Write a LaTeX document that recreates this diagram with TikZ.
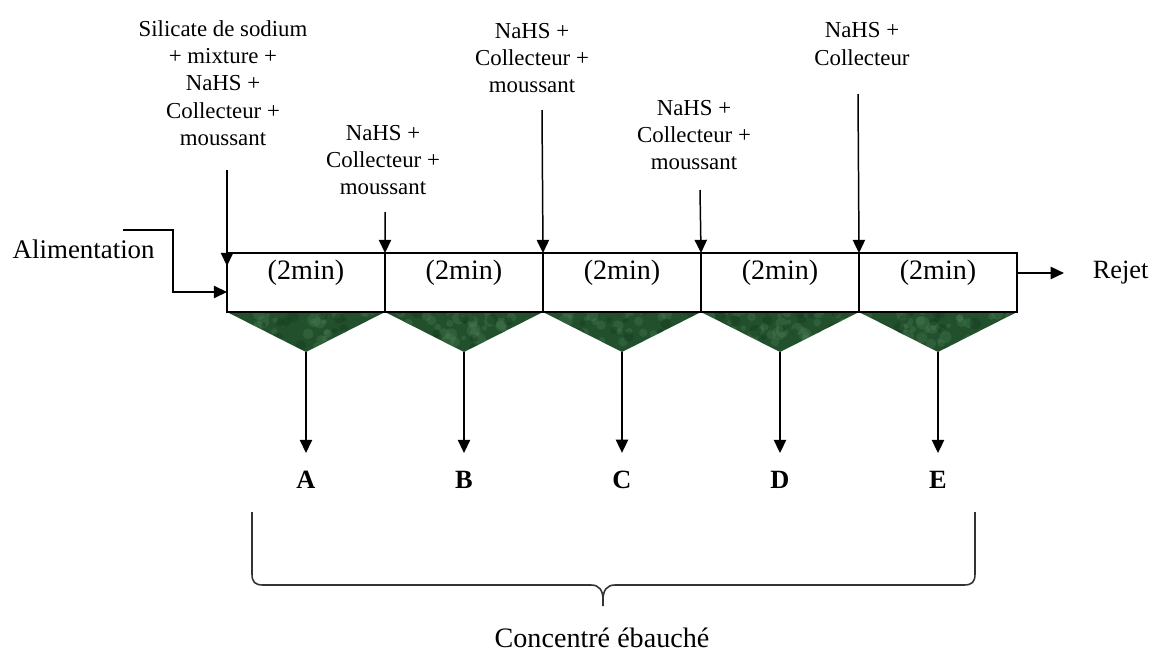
\documentclass[tikz,border=0pt]{standalone}
\usepackage{fontspec}
\setmainfont{Liberation Serif}
\usetikzlibrary{arrows.meta,calc}
\definecolor{mal}{RGB}{34,80,44}
\definecolor{mallight}{RGB}{80,130,90}
\definecolor{maldark}{RGB}{18,52,26}
\begin{document}
\begin{tikzpicture}[x=0.02cm,y=-0.02cm,line width=0.85pt,
  arr/.style={-{Triangle[length=7.5pt,width=7pt]}},
  cell/.style={draw,minimum width=3.16cm,minimum height=1.18cm,inner sep=0pt,outer sep=0pt},
  lbl/.style={align=center,font=\fontsize{13}{15.6}\selectfont,inner sep=0pt},
  big/.style={font=\fontsize{16}{19}\selectfont,inner sep=0pt},
  letter/.style={font=\fontsize{15}{18}\selectfont\bfseries,inner sep=2pt}]
\useasboundingbox (0,0) rectangle (1157,653);
\pgfmathsetseed{11}
% triangles (hoppers)
\foreach \i/\cx in {1/306,2/464,3/622,4/780,5/938}{
  \coordinate (t\i) at (\cx,352);
  \begin{scope}
    \clip (\cx-79,312) -- (\cx+79,312) -- (t\i) -- cycle;
    \fill[mal] (\cx-80,311) rectangle (\cx+80,356);
    \foreach \k in {1,...,45}{
      \pgfmathsetmacro\px{\cx-80+160*rnd}
      \pgfmathsetmacro\py{312+42*rnd}
      \pgfmathsetmacro\rr{2+5*rnd}
      \fill[mallight,opacity=0.3] (\px,\py) circle[radius=\rr];
    }
    \foreach \k in {1,...,25}{
      \pgfmathsetmacro\px{\cx-80+160*rnd}
      \pgfmathsetmacro\py{312+42*rnd}
      \pgfmathsetmacro\rr{2+4*rnd}
      \fill[maldark,opacity=0.35] (\px,\py) circle[radius=\rr];
    }
  \end{scope}
}
% cells
\foreach \i/\cx in {1/306,2/464,3/622,4/780,5/938}{
  \node[cell] (c\i) at (\cx,282.5) {};
  \node[big] at (\cx,272.5) {(2min)};
}
% top reagent labels
\node[lbl] (r1) at (223,83) {Silicate de sodium\\+ mixture +\\NaHS +\\Collecteur +\\moussant};
\node[lbl] (r2) at (383,160) {NaHS +\\Collecteur +\\moussant};
\node[lbl] (r3) at (532,58) {NaHS +\\Collecteur +\\moussant};
\node[lbl] (r4) at (694,135) {NaHS +\\Collecteur +\\moussant};
\node[lbl] (r5) at (862,44) {NaHS +\\Collecteur};
\coordinate (s1) at (227,170);
\coordinate (s2) at (385,212);
\coordinate (s3) at (542,110);
\coordinate (s4) at (700,190);
\coordinate (s5) at (858,94);
\coordinate (e1) at (227,266);
\draw[arr] (s1) -- (e1);
\draw[arr] (s2) -- (c2.north west);
\draw[arr] (s3) -- (c3.north west);
\draw[arr] (s4) -- (c4.north west);
\draw[arr] (s5) -- (c5.north west);
% feed
\node[font=\fontsize{15.3}{18}\selectfont,inner sep=0pt,anchor=west] (alim) at (12,249) {Alimentation};
\coordinate (f0) at (123,230);
\coordinate (f1) at (227,292);
\draw[arr] (f0) -- (173,230) |- (f1);
% reject
\node[font=\fontsize{15}{18}\selectfont,inner sep=0pt,anchor=west] (rej) at (1092,273) {Rejet};
\draw[arr,shorten >=16pt] (c5.east |- rej.west) -- (rej.west);
% products
\foreach \i/\l in {1/A,2/B,3/C,4/D,5/E}{
  \node[letter] (p\i) at ($(t\i)+(0,128)$) {\l};
  \draw[arr,shorten >=8pt] (t\i) -- (p\i.north);
}
% brace
\draw[line width=0.9pt,black!80] (252,512) -- (252,574) .. controls (252,582) and (255,585) .. (263,585)
  -- (591,585) .. controls (599,585) and (603,590) .. (603,600) -- (603,606)
  (603,600) .. controls (603,590) and (607,585) .. (615,585)
  -- (964,585) .. controls (972,585) and (975,582) .. (975,574) -- (975,512);
\node[big] (conc) at (602,638) {Concentré ébauché};
\end{tikzpicture}
\end{document}
